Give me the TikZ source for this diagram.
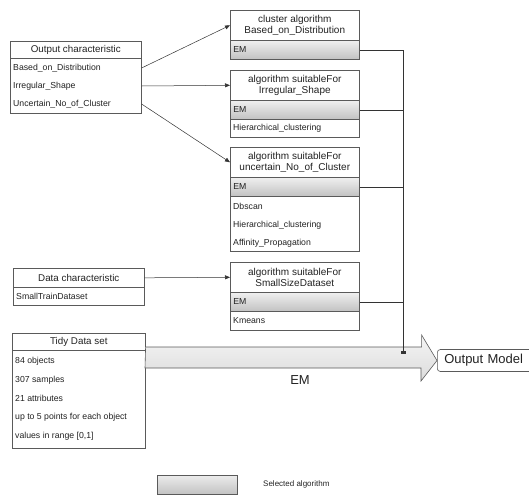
\documentclass[tikz,border=0pt]{standalone}
\usepackage{fontspec}
\setmainfont{Liberation Sans}
\usetikzlibrary{arrows.meta}
\definecolor{boxc}{HTML}{5A5A5A}
\definecolor{txtc}{HTML}{222222}
\begin{document}
\begin{tikzpicture}[x=1pt,y=-1pt,
  bx/.style={draw=boxc, line width=0.6pt},
  hdr/.style={bx, fill=white, anchor=north west, inner sep=0pt, align=center, text=txtc, font=\fontsize{10}{11}\selectfont},
  emb/.style={bx, anchor=north west, inner xsep=3pt, inner ysep=0pt, text width=123pt, align=left, minimum height=19pt,
    top color=gray!12, bottom color=gray!48, text=txtc, font=\fontsize{8.7}{10}\selectfont},
  bodyb/.style={bx, fill=white, anchor=north west, inner sep=0pt},
  item/.style={anchor=west, inner xsep=3pt, inner ysep=0pt, text=txtc, font=\fontsize{8.7}{10}\selectfont},
  conn/.style={draw=black!80, line width=0.5pt},
  tip/.style={-{Triangle[length=5pt,width=4pt]}},
  bigarrow/.style={draw=boxc, line width=0.6pt, top color=gray!8, bottom color=gray!28},
]
\useasboundingbox (0,0) rectangle (529,496);

% Output characteristic
\node[hdr, minimum width=131pt, minimum height=17pt, font=\fontsize{9.8}{11}\selectfont] (och) at (10,41) {Output characteristic};
\node[bodyb, minimum width=131pt, minimum height=55pt] (ocb) at (10,58) {};
\node[item] (oc1) at (10,68) {Based\_on\_Distribution};
\node[item] (oc2) at (10,86) {Irregular\_Shape};
\node[item] (oc3) at (10,104) {Uncertain\_No\_of\_Cluster};

% Box 1
\node[hdr, minimum width=129pt, minimum height=30pt] (a1h) at (230,10) {cluster algorithm\\Based\_on\_Distribution};
\node[emb] (a1e) at (230,40) {EM};

% Box 2
\node[hdr, minimum width=129pt, minimum height=30pt] (a2h) at (230,70) {algorithm suitableFor\\Irregular\_Shape};
\node[emb] (a2e) at (230,100) {EM};
\node[bodyb, minimum width=129pt, minimum height=18pt] (a2b) at (230,119) {};
\node[item] (a2i1) at (230,128) {Hierarchical\_clustering};

% Box 3
\node[hdr, minimum width=129pt, minimum height=30pt] (a3h) at (230,147) {algorithm suitableFor\\uncertain\_No\_of\_Cluster};
\node[emb] (a3e) at (230,177) {EM};
\node[bodyb, minimum width=129pt, minimum height=55pt] (a3b) at (230,196) {};
\node[item] (a3i1) at (230,206) {Dbscan};
\node[item] (a3i2) at (230,225) {Hierarchical\_clustering};
\node[item] (a3i3) at (230,243) {Affinity\_Propagation};

% Data characteristic
\node[hdr, minimum width=131pt, minimum height=19pt, font=\fontsize{9.8}{11}\selectfont] (dch) at (13,268) {Data characteristic};
\node[bodyb, minimum width=131pt, minimum height=18pt] (dcb) at (13,287) {};
\node[item] (dc1) at (13,296) {SmallTrainDataset};

% Box 4
\node[hdr, minimum width=129pt, minimum height=30pt] (a4h) at (230,262) {algorithm suitableFor\\SmallSizeDataset};
\node[emb] (a4e) at (230,292) {EM};
\node[bodyb, minimum width=129pt, minimum height=19pt] (a4b) at (230,311) {};
\node[item] (a4i1) at (230,321) {Kmeans};

% Tidy data set
\node[hdr, minimum width=133pt, minimum height=17pt, font=\fontsize{9.8}{11}\selectfont] (tdh) at (12,333) {Tidy Data set};
\node[bodyb, minimum width=133pt, minimum height=98pt] (tdb) at (12,350) {};
\node[item] (td1) at (12,361) {84 objects};
\node[item] (td2) at (12,380) {307 samples};
\node[item] (td3) at (12,398) {21 attributes};
\node[item] (td4) at (12,417) {up to 5 points for each object};
\node[item] (td5) at (12,436) {values in range [0,1]};

% Output model (runs past the right edge, as in the reference)
\node[bx, rounded corners=3pt, anchor=west, text width=84pt, align=left, minimum height=22pt, inner xsep=7pt, inner ysep=0pt, fill=white, text=txtc, font=\fontsize{13}{14}\selectfont] (om) at (437,360.5) {Output Model};

% Big arrow
\path[bigarrow] ([yshift=3pt]tdb.north east) -- ++(276,0) -- ++(0,-12) -- (om.west) -- ++(-16,20.5) -- ++(0,-13) -- ++(-276,0) -- cycle;
\node[text=txtc, font=\fontsize{13}{14}\selectfont] (eml) at (300,380) {EM};

% Connectors from characteristics
\draw[conn,tip] (ocb.east |- oc1) -- (a1h.west);
\draw[conn,tip] (ocb.east |- oc2) -- (a2h.west);
\draw[conn,tip] (ocb.east |- oc3) -- (a3h.west);
\draw[conn,tip] (dch.east) -- (a4h.west);

% Bus from EM rows to big arrow
\coordinate (bus) at (403,353);
\draw[conn,-{Rectangle[length=2pt,width=4pt]}] (a1e.east) -| (bus);
\draw[conn] (a2e.east) -- (a2e.east -| bus);
\draw[conn] (a3e.east) -- (a3e.east -| bus);
\draw[conn] (a4e.east) -- (a4e.east -| bus);

% Legend
\node[bx, top color=gray!15, bottom color=gray!48, minimum width=80pt, minimum height=19pt, anchor=north west, inner sep=0pt] (leg) at (157,475) {};
\node[anchor=west, inner sep=0pt, text=txtc, font=\fontsize{8}{9}\selectfont] (legt) at (263,484) {Selected algorithm};
\end{tikzpicture}
\end{document}
